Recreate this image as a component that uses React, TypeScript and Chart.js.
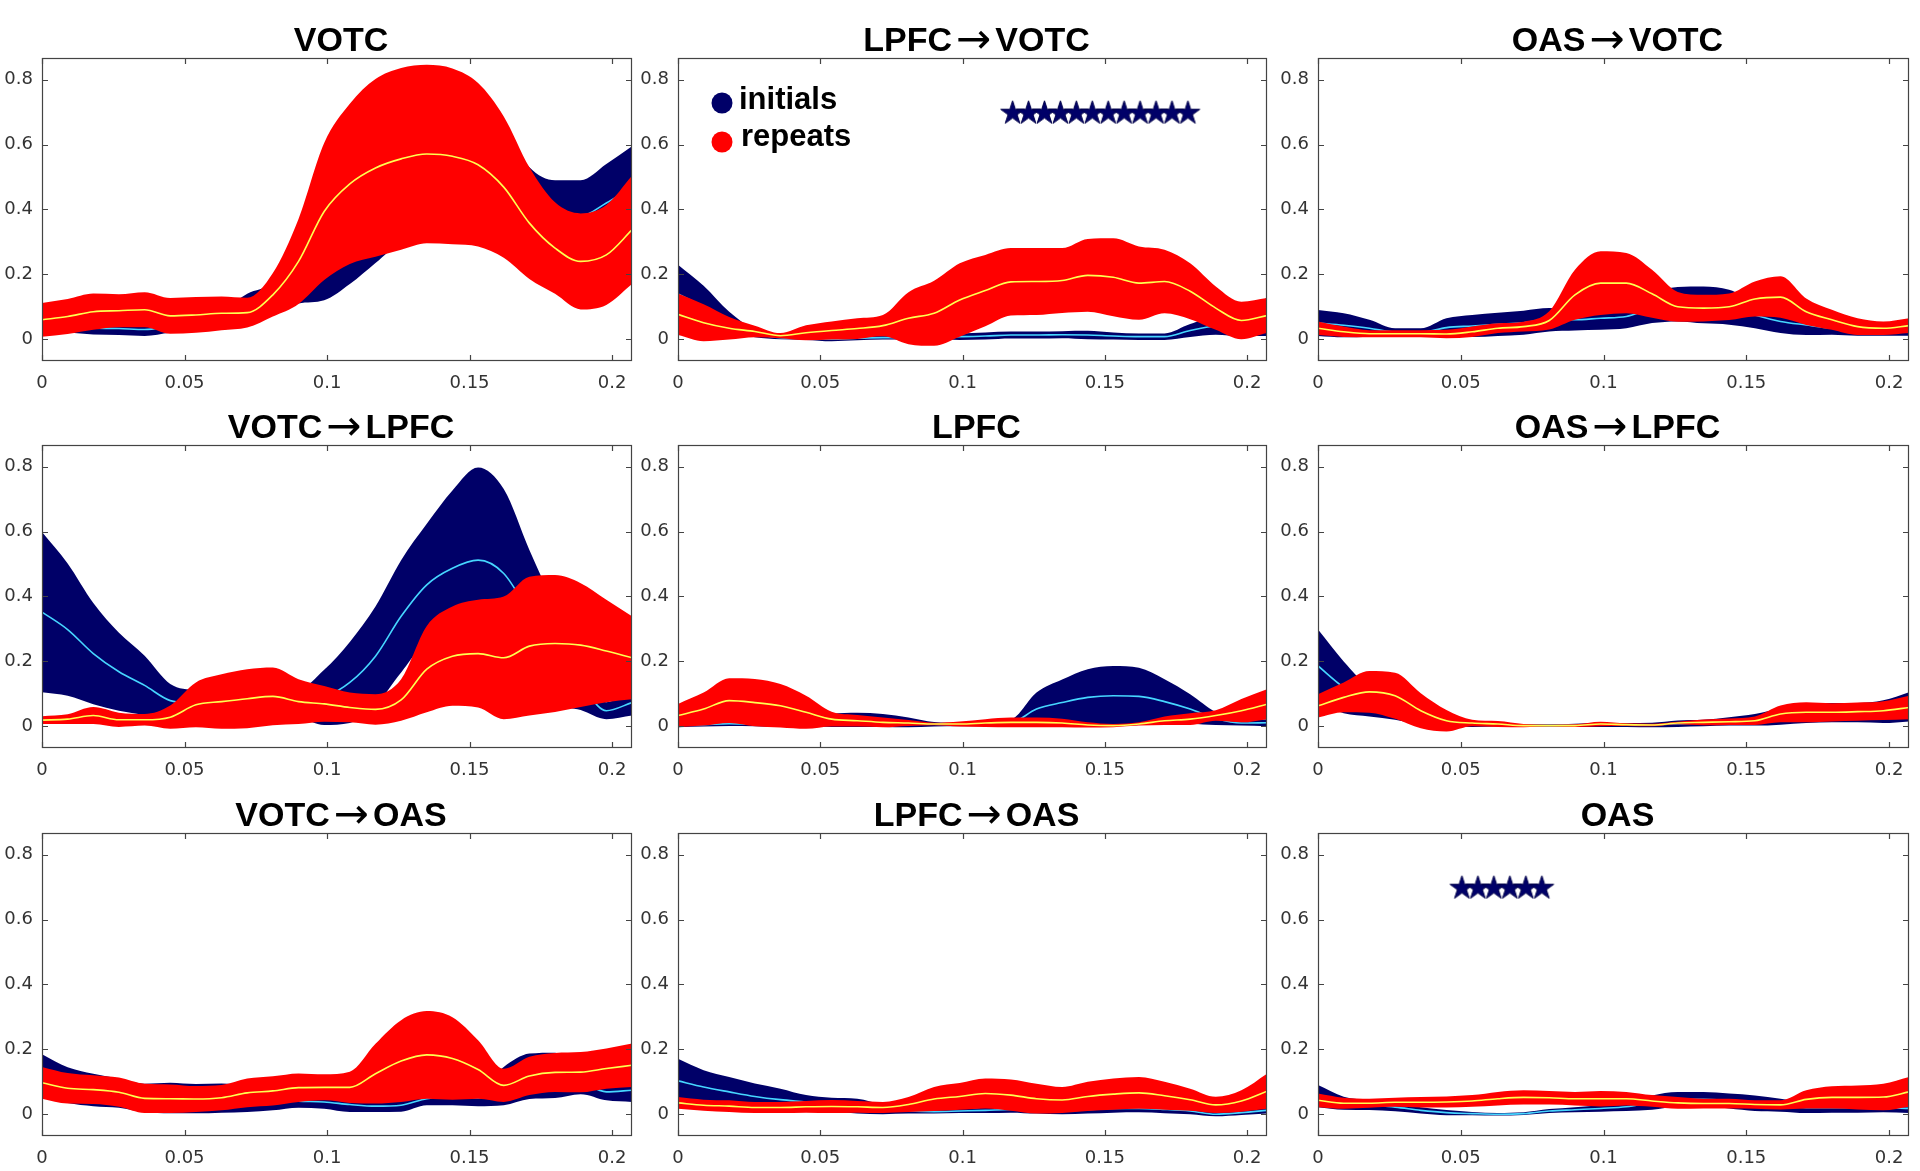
import { useEffect, useRef } from "react";
import { Chart, registerables } from "chart.js";

Chart.register(...registerables);

// ---------- data ----------
const xGrid = [0, 0.009, 0.018, 0.027, 0.036, 0.045, 0.054, 0.063, 0.072, 0.081, 0.09, 0.099, 0.108, 0.117, 0.126, 0.135, 0.144, 0.153, 0.162, 0.171, 0.18, 0.189, 0.198, 0.207];
const xTickVals = [0, 0.05, 0.1, 0.15, 0.2];
const xTickLabels = ["0", "0.05", "0.1", "0.15", "0.2"];
const yTickVals = [0, 0.2, 0.4, 0.6, 0.8];
const yTickLabels = ["0", "0.2", "0.4", "0.6", "0.8"];

// VOTC
const votcInitMean = [0.05, 0.045, 0.035, 0.033, 0.03, 0.04, 0.05, 0.06, 0.09, 0.13, 0.22, 0.3, 0.4, 0.47, 0.52, 0.55, 0.55, 0.53, 0.5, 0.42, 0.38, 0.38, 0.42, 0.47];
const votcInitSem = [0.03, 0.025, 0.02, 0.02, 0.02, 0.02, 0.025, 0.03, 0.05, 0.05, 0.11, 0.18, 0.23, 0.235, 0.22, 0.22, 0.22, 0.2, 0.15, 0.11, 0.11, 0.11, 0.12, 0.125];
const votcRepMean = [0.06, 0.07, 0.085, 0.088, 0.091, 0.072, 0.075, 0.08, 0.082, 0.137, 0.24, 0.394, 0.479, 0.528, 0.556, 0.571, 0.564, 0.538, 0.469, 0.358, 0.281, 0.24, 0.26, 0.337];
const votcRepSem = [0.052, 0.054, 0.056, 0.051, 0.054, 0.055, 0.055, 0.052, 0.046, 0.067, 0.131, 0.211, 0.247, 0.274, 0.28, 0.275, 0.271, 0.252, 0.218, 0.172, 0.141, 0.148, 0.154, 0.167];

// LPFC -> VOTC
const lpfcVotcInitMean = [0.14, 0.1, 0.055, 0.018, 0.005, 0.003, 0.0, 0.003, 0.005, 0.005, 0.008, 0.008, 0.01, 0.013, 0.013, 0.014, 0.013, 0.01, 0.008, 0.008, 0.027, 0.04, 0.03, 0.07];
const lpfcVotcInitSem = [0.09, 0.065, 0.03, 0.012, 0.005, 0.005, 0.006, 0.006, 0.006, 0.006, 0.008, 0.01, 0.011, 0.011, 0.011, 0.011, 0.013, 0.011, 0.01, 0.01, 0.02, 0.026, 0.02, 0.06];
const lpfcVotcRepMean = [0.077, 0.051, 0.034, 0.024, 0.011, 0.02, 0.027, 0.033, 0.042, 0.065, 0.08, 0.121, 0.15, 0.177, 0.178, 0.181, 0.197, 0.191, 0.173, 0.178, 0.148, 0.096, 0.058, 0.073];
const lpfcVotcRepSem = [0.064, 0.057, 0.035, 0.018, 0.008, 0.023, 0.028, 0.032, 0.033, 0.08, 0.1, 0.113, 0.11, 0.104, 0.103, 0.1, 0.112, 0.12, 0.113, 0.098, 0.086, 0.067, 0.058, 0.054];
const lpfcVotcStars = [0.1176, 0.1232, 0.1288, 0.1344, 0.14, 0.1456, 0.1512, 0.1568, 0.1624, 0.168, 0.1736, 0.1792];

// OAS -> VOTC
const oasVotcInitMean = [0.05, 0.043, 0.034, 0.022, 0.021, 0.036, 0.041, 0.046, 0.051, 0.06, 0.06, 0.065, 0.07, 0.096, 0.108, 0.106, 0.099, 0.075, 0.055, 0.044, 0.034, 0.029, 0.029, 0.029];
const oasVotcInitSem = [0.04, 0.037, 0.026, 0.012, 0.013, 0.029, 0.034, 0.036, 0.037, 0.036, 0.033, 0.036, 0.036, 0.046, 0.053, 0.057, 0.054, 0.041, 0.036, 0.031, 0.02, 0.018, 0.018, 0.018];
const oasVotcRepMean = [0.034, 0.023, 0.017, 0.017, 0.017, 0.016, 0.023, 0.034, 0.039, 0.058, 0.137, 0.173, 0.173, 0.14, 0.1, 0.096, 0.1, 0.124, 0.13, 0.085, 0.06, 0.039, 0.034, 0.042];
const oasVotcRepSem = [0.021, 0.016, 0.011, 0.011, 0.011, 0.013, 0.016, 0.015, 0.015, 0.028, 0.077, 0.098, 0.093, 0.074, 0.046, 0.041, 0.041, 0.054, 0.064, 0.041, 0.031, 0.026, 0.021, 0.023];

// VOTC -> LPFC
const votcLpfcInitMean = [0.352, 0.298, 0.224, 0.168, 0.126, 0.079, 0.07, 0.06, 0.06, 0.07, 0.07, 0.089, 0.135, 0.216, 0.339, 0.436, 0.487, 0.512, 0.471, 0.349, 0.22, 0.13, 0.048, 0.073];
const votcLpfcInitSem = [0.247, 0.204, 0.156, 0.12, 0.091, 0.051, 0.04, 0.04, 0.04, 0.05, 0.045, 0.085, 0.125, 0.153, 0.173, 0.188, 0.24, 0.286, 0.26, 0.194, 0.15, 0.08, 0.026, 0.04];
const votcLpfcRepMean = [0.019, 0.022, 0.033, 0.02, 0.02, 0.028, 0.066, 0.076, 0.085, 0.092, 0.076, 0.069, 0.058, 0.052, 0.081, 0.176, 0.216, 0.224, 0.211, 0.247, 0.255, 0.25, 0.232, 0.211];
const votcLpfcRepSem = [0.012, 0.015, 0.026, 0.022, 0.018, 0.036, 0.069, 0.084, 0.091, 0.089, 0.069, 0.055, 0.046, 0.047, 0.064, 0.133, 0.153, 0.166, 0.189, 0.214, 0.211, 0.191, 0.158, 0.128];

// LPFC
const lpfcInitMean = [0.003, 0.005, 0.008, 0.006, 0.006, 0.01, 0.018, 0.02, 0.018, 0.012, 0.006, 0.005, 0.006, 0.01, 0.053, 0.073, 0.089, 0.094, 0.092, 0.076, 0.053, 0.024, 0.01, 0.011];
const lpfcInitSem = [0.006, 0.006, 0.007, 0.006, 0.008, 0.01, 0.02, 0.022, 0.02, 0.015, 0.007, 0.005, 0.006, 0.01, 0.051, 0.071, 0.087, 0.092, 0.088, 0.069, 0.046, 0.02, 0.008, 0.011];
const lpfcRepMean = [0.033, 0.053, 0.079, 0.073, 0.063, 0.043, 0.022, 0.017, 0.012, 0.01, 0.007, 0.007, 0.01, 0.012, 0.012, 0.01, 0.004, 0.002, 0.007, 0.017, 0.022, 0.033, 0.048, 0.068];
const lpfcRepSem = [0.036, 0.051, 0.069, 0.073, 0.067, 0.051, 0.023, 0.018, 0.015, 0.009, 0.004, 0.008, 0.012, 0.015, 0.015, 0.013, 0.008, 0.005, 0.005, 0.013, 0.018, 0.016, 0.036, 0.046];

// OAS -> LPFC
const oasLpfcInitMean = [0.186, 0.12, 0.075, 0.05, 0.025, 0.012, 0.006, 0.004, 0.002, 0.002, 0.003, 0.004, 0.004, 0.004, 0.008, 0.01, 0.015, 0.02, 0.03, 0.04, 0.042, 0.042, 0.045, 0.06];
const oasLpfcInitSem = [0.112, 0.08, 0.045, 0.03, 0.02, 0.012, 0.008, 0.005, 0.004, 0.004, 0.005, 0.006, 0.006, 0.007, 0.01, 0.01, 0.013, 0.018, 0.025, 0.03, 0.03, 0.03, 0.035, 0.045];
const oasLpfcRepMean = [0.063, 0.089, 0.106, 0.094, 0.048, 0.017, 0.01, 0.007, 0.002, 0.002, 0.002, 0.007, 0.005, 0.004, 0.01, 0.012, 0.014, 0.017, 0.038, 0.043, 0.043, 0.045, 0.048, 0.058];
const oasLpfcRepSem = [0.036, 0.046, 0.064, 0.071, 0.054, 0.033, 0.01, 0.009, 0.005, 0.003, 0.004, 0.007, 0.004, 0.004, 0.004, 0.009, 0.01, 0.013, 0.026, 0.031, 0.028, 0.028, 0.029, 0.036];

// VOTC -> OAS
const votcOasInitMean = [0.12, 0.09, 0.075, 0.065, 0.05, 0.05, 0.048, 0.05, 0.048, 0.045, 0.04, 0.038, 0.03, 0.025, 0.028, 0.048, 0.053, 0.05, 0.087, 0.117, 0.12, 0.1, 0.069, 0.074];
const votcOasInitSem = [0.065, 0.055, 0.05, 0.045, 0.044, 0.047, 0.045, 0.045, 0.041, 0.033, 0.02, 0.021, 0.023, 0.018, 0.02, 0.02, 0.025, 0.025, 0.059, 0.07, 0.07, 0.038, 0.026, 0.036];
const votcOasRepMean = [0.097, 0.08, 0.076, 0.068, 0.049, 0.048, 0.047, 0.051, 0.066, 0.072, 0.082, 0.083, 0.083, 0.125, 0.164, 0.183, 0.172, 0.138, 0.089, 0.118, 0.129, 0.13, 0.141, 0.151];
const votcOasRepSem = [0.049, 0.047, 0.044, 0.045, 0.045, 0.044, 0.04, 0.039, 0.044, 0.045, 0.044, 0.04, 0.048, 0.092, 0.126, 0.135, 0.127, 0.09, 0.051, 0.059, 0.06, 0.062, 0.062, 0.067];

// LPFC -> OAS
const lpfcOasInitMean = [0.103, 0.084, 0.069, 0.055, 0.045, 0.038, 0.03, 0.025, 0.015, 0.01, 0.008, 0.01, 0.012, 0.015, 0.012, 0.01, 0.014, 0.018, 0.018, 0.015, 0.01, 0.0, 0.005, 0.012];
const lpfcOasInitSem = [0.068, 0.052, 0.046, 0.04, 0.034, 0.021, 0.021, 0.023, 0.015, 0.008, 0.006, 0.006, 0.008, 0.01, 0.01, 0.01, 0.012, 0.013, 0.012, 0.012, 0.01, 0.006, 0.007, 0.01];
const lpfcOasRepMean = [0.035, 0.028, 0.025, 0.021, 0.021, 0.023, 0.024, 0.023, 0.021, 0.03, 0.047, 0.055, 0.064, 0.059, 0.048, 0.044, 0.055, 0.062, 0.066, 0.057, 0.045, 0.029, 0.041, 0.071];
const lpfcOasRepSem = [0.018, 0.017, 0.018, 0.017, 0.017, 0.018, 0.02, 0.018, 0.017, 0.023, 0.037, 0.041, 0.046, 0.048, 0.046, 0.04, 0.045, 0.048, 0.049, 0.043, 0.034, 0.025, 0.033, 0.054];

// OAS
const oasInitMean = [0.056, 0.034, 0.028, 0.022, 0.012, 0.005, 0.002, 0.0, 0.002, 0.01, 0.014, 0.018, 0.023, 0.036, 0.046, 0.046, 0.041, 0.034, 0.028, 0.02, 0.02, 0.02, 0.02, 0.018];
const oasInitSem = [0.034, 0.02, 0.015, 0.013, 0.01, 0.008, 0.005, 0.004, 0.004, 0.006, 0.008, 0.01, 0.013, 0.022, 0.023, 0.023, 0.023, 0.024, 0.02, 0.016, 0.015, 0.015, 0.014, 0.014];
const oasRepMean = [0.043, 0.034, 0.034, 0.037, 0.037, 0.038, 0.041, 0.048, 0.052, 0.051, 0.048, 0.048, 0.048, 0.041, 0.035, 0.033, 0.033, 0.03, 0.029, 0.046, 0.052, 0.052, 0.053, 0.069];
const oasRepSem = [0.021, 0.017, 0.014, 0.014, 0.016, 0.017, 0.018, 0.021, 0.022, 0.021, 0.021, 0.024, 0.021, 0.018, 0.018, 0.015, 0.015, 0.013, 0.014, 0.028, 0.034, 0.037, 0.041, 0.046];
const oasStars = [0.0504, 0.056, 0.0616, 0.0672, 0.0728, 0.0784];

const starLevel = 0.7;
const legendLabels = ["initials", "repeats"];

type Panel = {
  title: string;
  initMean: number[];
  initSem: number[];
  repMean: number[];
  repSem: number[];
  stars: number[];
  legend: boolean;
};

const panels: Panel[] = [
  { title: "VOTC", initMean: votcInitMean, initSem: votcInitSem, repMean: votcRepMean, repSem: votcRepSem, stars: [], legend: false },
  { title: "LPFC\u2192VOTC", initMean: lpfcVotcInitMean, initSem: lpfcVotcInitSem, repMean: lpfcVotcRepMean, repSem: lpfcVotcRepSem, stars: lpfcVotcStars, legend: true },
  { title: "OAS\u2192VOTC", initMean: oasVotcInitMean, initSem: oasVotcInitSem, repMean: oasVotcRepMean, repSem: oasVotcRepSem, stars: [], legend: false },
  { title: "VOTC\u2192LPFC", initMean: votcLpfcInitMean, initSem: votcLpfcInitSem, repMean: votcLpfcRepMean, repSem: votcLpfcRepSem, stars: [], legend: false },
  { title: "LPFC", initMean: lpfcInitMean, initSem: lpfcInitSem, repMean: lpfcRepMean, repSem: lpfcRepSem, stars: [], legend: false },
  { title: "OAS\u2192LPFC", initMean: oasLpfcInitMean, initSem: oasLpfcInitSem, repMean: oasLpfcRepMean, repSem: oasLpfcRepSem, stars: [], legend: false },
  { title: "VOTC\u2192OAS", initMean: votcOasInitMean, initSem: votcOasInitSem, repMean: votcOasRepMean, repSem: votcOasRepSem, stars: [], legend: false },
  { title: "LPFC\u2192OAS", initMean: lpfcOasInitMean, initSem: lpfcOasInitSem, repMean: lpfcOasRepMean, repSem: lpfcOasRepSem, stars: [], legend: false },
  { title: "OAS", initMean: oasInitMean, initSem: oasInitSem, repMean: oasRepMean, repSem: oasRepSem, stars: oasStars, legend: false },
];

// ---------- layout / style ----------
const COL_LEFT = [42, 678, 1318];
const COL_W = [590, 589, 591];
const ROW_TOP = [58, 445, 833];
const PLOT_H = 303;
const TITLE_SPACE = 56;
const AXIS_LEFT = 42;
const AXIS_BOTTOM = 40;
const PAD_RIGHT = 4;

const NAVY = "#000068";
const RED = "#ff0000";
const CYAN = "#46d6ff";
const YELLOW = "#ffff50";
const AXIS_COLOR = "#444444";
const TICK_TEXT = "#333333";
const TITLE_FONT = 'bold 34px "Liberation Sans", Arial, sans-serif';
const ARROW_FONT = '42px "DejaVu Sans", sans-serif';

function makeStar(): HTMLCanvasElement {
  const c = document.createElement("canvas");
  const s = 27;
  c.width = s;
  c.height = s;
  const ctx = c.getContext("2d")!;
  const cx = s / 2;
  const cy = s / 2 + 1;
  const R = 12.5;
  const r = R * 0.382;
  ctx.beginPath();
  for (let k = 0; k < 10; k++) {
    const rad = k % 2 === 0 ? R : r;
    const a = -Math.PI / 2 + (k * Math.PI) / 5;
    const px = cx + rad * Math.cos(a);
    const py = cy + rad * Math.sin(a);
    if (k === 0) ctx.moveTo(px, py);
    else ctx.lineTo(px, py);
  }
  ctx.closePath();
  ctx.fillStyle = NAVY;
  ctx.fill();
  ctx.strokeStyle = "#00004a";
  ctx.lineWidth = 1;
  ctx.stroke();
  return c;
}

function pts(vals: number[]) {
  return xGrid.map((x, i) => ({ x, y: vals[i] }));
}

function drawTitle(ctx: CanvasRenderingContext2D, title: string, cx: number, baseline: number) {
  const parts = title.split("\u2192");
  ctx.textBaseline = "alphabetic";
  ctx.textAlign = "left";
  ctx.fillStyle = "#000000";
  if (parts.length === 1) {
    ctx.font = TITLE_FONT;
    const w = ctx.measureText(title).width;
    ctx.fillText(title, cx - w / 2, baseline);
    return;
  }
  const gap = 4;
  ctx.font = TITLE_FONT;
  const w1 = ctx.measureText(parts[0]).width;
  const w2 = ctx.measureText(parts[1]).width;
  ctx.font = ARROW_FONT;
  const wa = ctx.measureText("\u2192").width;
  const total = w1 + gap + wa + gap + w2;
  let x = cx - total / 2;
  ctx.font = TITLE_FONT;
  ctx.fillText(parts[0], x, baseline);
  x += w1 + gap;
  ctx.font = ARROW_FONT;
  ctx.fillText("\u2192", x, baseline + 2);
  x += wa + gap;
  ctx.font = TITLE_FONT;
  ctx.fillText(parts[1], x, baseline);
}

function zeroPad(s: any) {
  s.paddingLeft = 0;
  s.paddingRight = 0;
  s.paddingTop = 0;
  s.paddingBottom = 0;
}

function PanelChart({ panel, row, col }: { panel: Panel; row: number; col: number }) {
  const ref = useRef<HTMLCanvasElement | null>(null);
  const width = AXIS_LEFT + COL_W[col] + PAD_RIGHT;
  const height = TITLE_SPACE + PLOT_H + AXIS_BOTTOM;
  const left = COL_LEFT[col] - AXIS_LEFT;
  const top = ROW_TOP[row] - TITLE_SPACE;

  useEffect(() => {
    if (!ref.current) return;
    const star = makeStar();
    const initUp = panel.initMean.map((m, i) => m + panel.initSem[i]);
    const initLo = panel.initMean.map((m, i) => m - panel.initSem[i]);
    const repUp = panel.repMean.map((m, i) => m + panel.repSem[i]);
    const repLo = panel.repMean.map((m, i) => m - panel.repSem[i]);

    const band = { borderWidth: 0, borderColor: "transparent", pointRadius: 0, cubicInterpolationMode: "monotone" as const };
    const datasets: any[] = [
      {
        label: "stars",
        data: panel.stars.map((x) => ({ x, y: starLevel })),
        showLine: false,
        pointStyle: star,
        pointRadius: 1,
        borderWidth: 0,
        clip: false,
      },
      { label: "repeats mean", data: pts(panel.repMean), borderColor: YELLOW, borderWidth: 1.6, pointRadius: 0, fill: false, cubicInterpolationMode: "monotone" },
      { label: "repeats upper", data: pts(repUp), ...band, backgroundColor: RED, fill: 3 },
      { label: "repeats lower", data: pts(repLo), ...band, fill: false },
      { label: "initials mean", data: pts(panel.initMean), borderColor: CYAN, borderWidth: 1.6, pointRadius: 0, fill: false, cubicInterpolationMode: "monotone" },
      { label: "initials upper", data: pts(initUp), ...band, backgroundColor: NAVY, fill: 6 },
      { label: "initials lower", data: pts(initLo), ...band, fill: false },
    ];

    const framePlugin = {
      id: "frame",
      afterDatasetsDraw(chart: any) {
        const { ctx, chartArea } = chart;
        const { left: l, right: r, top: t, bottom: b } = chartArea;
        const xs = chart.scales.x;
        const ys = chart.scales.y;
        ctx.save();
        ctx.strokeStyle = AXIS_COLOR;
        ctx.lineWidth = 1.2;
        ctx.strokeRect(l + 0.5, t + 0.5, r - l - 1, b - t - 1);
        const TL = 6;
        ctx.beginPath();
        xTickVals.forEach((v) => {
          const px = Math.round(xs.getPixelForValue(v)) + 0.5;
          ctx.moveTo(px, b);
          ctx.lineTo(px, b - TL);
          ctx.moveTo(px, t);
          ctx.lineTo(px, t + TL);
        });
        yTickVals.forEach((v) => {
          const py = Math.round(ys.getPixelForValue(v)) + 0.5;
          ctx.moveTo(l, py);
          ctx.lineTo(l + TL, py);
          ctx.moveTo(r, py);
          ctx.lineTo(r - TL, py);
        });
        ctx.stroke();
        ctx.restore();
      },
      afterDraw(chart: any) {
        const { ctx, chartArea } = chart;
        const { left: l, right: r, top: t } = chartArea;
        ctx.save();
        drawTitle(ctx, panel.title, (l + r) / 2 + 4, t - 7);
        if (panel.legend) {
          const colors = [NAVY, RED];
          const cy = [t + 45, t + 84];
          const by = [t + 51, t + 88];
          ctx.font = 'bold 31px "Liberation Sans", Arial, sans-serif';
          ctx.textAlign = "left";
          ctx.textBaseline = "alphabetic";
          legendLabels.forEach((lab, i) => {
            ctx.beginPath();
            ctx.fillStyle = colors[i];
            ctx.arc(l + 44, cy[i], 10.5, 0, Math.PI * 2);
            ctx.fill();
            ctx.fillStyle = "#000000";
            ctx.fillText(lab, l + 61 + i * 2, by[i]);
          });
        }
        ctx.restore();
      },
    };

    const tickFont = { family: '"DejaVu Sans", sans-serif', size: 18 };
    const chart = new Chart(ref.current, {
      type: "line",
      data: { datasets },
      options: {
        animation: false,
        responsive: false,
        maintainAspectRatio: false,
        layout: { autoPadding: false, padding: { top: TITLE_SPACE, right: PAD_RIGHT, left: 0, bottom: 0 } },
        plugins: {
          legend: { display: false },
          tooltip: { enabled: false },
          title: { display: false },
        },
        events: [],
        scales: {
          x: {
            type: "linear",
            min: 0,
            max: 0.207,
            afterBuildTicks: (s: any) => {
              s.ticks = xTickVals.map((v) => ({ value: v }));
            },
            afterFit: (s: any) => {
              s.height = AXIS_BOTTOM;
              zeroPad(s);
            },
            ticks: {
              callback: (_v: any, i: number) => xTickLabels[i],
              font: tickFont,
              color: TICK_TEXT,
              padding: 12,
              maxRotation: 0,
              autoSkip: false,
            },
            grid: { display: false, drawTicks: false },
            border: { display: false },
          },
          y: {
            type: "linear",
            min: -0.067,
            max: 0.867,
            afterBuildTicks: (s: any) => {
              s.ticks = yTickVals.map((v) => ({ value: v }));
            },
            afterFit: (s: any) => {
              s.width = AXIS_LEFT;
              zeroPad(s);
            },
            ticks: {
              callback: (_v: any, i: number) => yTickLabels[i],
              font: tickFont,
              color: TICK_TEXT,
              padding: 9,
              autoSkip: false,
            },
            grid: { display: false, drawTicks: false },
            border: { display: false },
          },
        },
      } as any,
      plugins: [framePlugin],
    });
    return () => chart.destroy();
  }, [panel, row, col]);

  return (
    <canvas
      ref={ref}
      width={width}
      height={height}
      style={{ position: "absolute", left, top, width, height }}
    />
  );
}

export default function App() {
  return (
    <div style={{ position: "absolute", left: 0, top: 0, width: 1920, height: 1171, background: "#ffffff", overflow: "hidden" }}>
      {panels.map((p, i) => (
        <PanelChart key={p.title} panel={p} row={Math.floor(i / 3)} col={i % 3} />
      ))}
    </div>
  );
}
